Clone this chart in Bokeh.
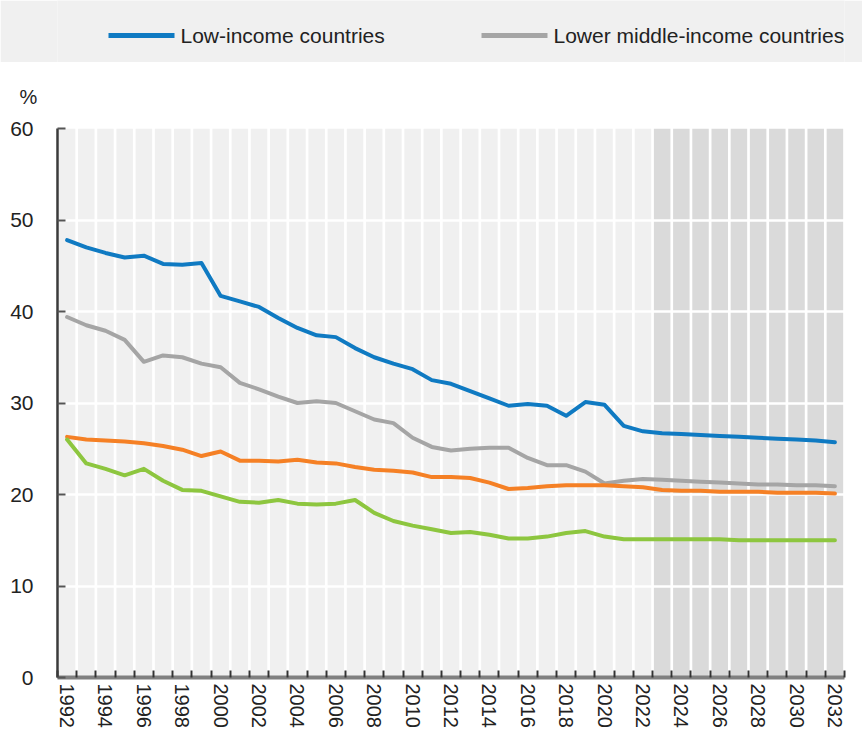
from bokeh.plotting import figure
from bokeh.layouts import column
from bokeh.models import FixedTicker, Range1d, ColumnDataSource, Title
from bokeh.core.properties import value
from bokeh.embed import file_html
from bokeh.resources import INLINE

# ---------------- data ----------------
years = [1992, 1993, 1994, 1995, 1996, 1997, 1998, 1999, 2000, 2001,
         2002, 2003, 2004, 2005, 2006, 2007, 2008, 2009, 2010, 2011,
         2012, 2013, 2014, 2015, 2016, 2017, 2018, 2019, 2020, 2021,
         2022, 2023, 2024, 2025, 2026, 2027, 2028, 2029, 2030, 2031, 2032]
projection_start = 2023

low_income = [47.8, 47.0, 46.4, 45.9, 46.1, 45.2, 45.1, 45.3, 41.7, 41.1,
              40.5, 39.3, 38.2, 37.4, 37.2, 36.0, 35.0, 34.3, 33.7, 32.5,
              32.1, 31.3, 30.5, 29.7, 29.9, 29.7, 28.6, 30.1, 29.8, 27.5,
              26.9, 26.7, 26.6, 26.5, 26.4, 26.3, 26.2, 26.1, 26.0, 25.9, 25.7]
lower_middle = [39.4, 38.5, 37.9, 36.9, 34.5, 35.2, 35.0, 34.3, 33.9, 32.2,
                31.5, 30.7, 30.0, 30.2, 30.0, 29.1, 28.2, 27.8, 26.2, 25.2,
                24.8, 25.0, 25.1, 25.1, 24.0, 23.2, 23.2, 22.5, 21.2, 21.5,
                21.7, 21.6, 21.5, 21.4, 21.3, 21.2, 21.1, 21.1, 21.0, 21.0, 20.9]
upper_middle = [26.3, 26.0, 25.9, 25.8, 25.6, 25.3, 24.9, 24.2, 24.7, 23.7,
                23.7, 23.6, 23.8, 23.5, 23.4, 23.0, 22.7, 22.6, 22.4, 21.9,
                21.9, 21.8, 21.3, 20.6, 20.7, 20.9, 21.0, 21.0, 21.0, 20.9,
                20.8, 20.5, 20.4, 20.4, 20.3, 20.3, 20.3, 20.2, 20.2, 20.2, 20.1]
high_income = [26.0, 23.4, 22.8, 22.1, 22.8, 21.5, 20.5, 20.4, 19.8, 19.2,
               19.1, 19.4, 19.0, 18.9, 19.0, 19.4, 18.0, 17.1, 16.6, 16.2,
               15.8, 15.9, 15.6, 15.2, 15.2, 15.4, 15.8, 16.0, 15.4, 15.1,
               15.1, 15.1, 15.1, 15.1, 15.1, 15.0, 15.0, 15.0, 15.0, 15.0, 15.0]

series_names = ["Low-income countries", "Lower middle-income countries",
                "Upper middle-income countries", "High-income countries"]
series_colors = ["#0F7AC2", "#A5A5A5", "#F58025", "#8DC63F"]
legend_shown = [0, 1]

y_ticks = [0, 10, 20, 30, 40, 50, 60]
x_label_years = [1992, 1994, 1996, 1998, 2000, 2002, 2004, 2006, 2008, 2010,
                 2012, 2014, 2016, 2018, 2020, 2022, 2024, 2026, 2028, 2030, 2032]
y_unit = "%"

FONT = "Liberation Sans"
TEXT_COLOR = "#222222"

# ---------------- layout (pixels) ----------------
W = 862
LEG_H = 62
H = 737 - LEG_H
BL, BR, BT, BB = 57, 18, 128 - LEG_H, 60

# ---------------- legend strip ----------------
lg = figure(width=W, height=LEG_H, output_backend="svg", toolbar_location=None,
            x_range=Range1d(BL, W - BR), y_range=Range1d(0, LEG_H),
            x_axis_location=None, y_axis_location=None,
            min_border_left=BL, min_border_right=BR, min_border_top=0, min_border_bottom=0)
lg.outline_line_color = None
lg.xgrid.visible = False
lg.ygrid.visible = False
lg.background_fill_color = "#F0F0F0"
lg.border_fill_color = "#F0F0F0"

legend_line_x = [108, 481]
legend_row = LEG_H - 35
for k, idx in enumerate(legend_shown):
    sx = legend_line_x[k]
    lg.segment(x0=[sx], y0=[legend_row], x1=[sx + 66], y1=[legend_row],
               line_color=series_colors[idx], line_width=5)
    lg.text(x=[sx + 72], y=[legend_row], text=[series_names[idx]],
            text_font=value(FONT), text_font_size="21px", text_color=TEXT_COLOR,
            text_baseline="middle", text_align="left")

# ---------------- main chart ----------------
p = figure(width=W, height=H, output_backend="svg", toolbar_location=None,
           x_range=Range1d(years[0] - 0.5, years[-1] + 0.5),
           y_range=Range1d(y_ticks[0], y_ticks[-1]),
           min_border_left=BL, min_border_right=BR,
           min_border_top=BT, min_border_bottom=BB)
p.outline_line_color = None
p.xgrid.visible = False
p.ygrid.visible = False
p.background_fill_color = "white"
p.border_fill_color = "white"

unit_title = Title(text=y_unit, align="left", offset=-38, standoff=42,
                   text_font=FONT, text_font_size="20px", text_font_style="normal",
                   text_color=TEXT_COLOR)
p.add_layout(unit_title, "above")

bg_colors = ["#F0F0F0" if y < projection_start else "#DADADA" for y in years]
bg = ColumnDataSource(dict(x=years, c=bg_colors))
p.vbar(x="x", width=0.86, bottom=y_ticks[0], top=y_ticks[-1],
       fill_color="c", line_color=None, source=bg)
p.hspan(y=y_ticks[1:-1], line_color="white", line_width=2.5)

for idx, vals in enumerate([low_income, lower_middle, upper_middle, high_income]):
    p.line(years, vals, line_color=series_colors[idx], line_width=4,
           line_join="round", line_cap="round")

# y axis
p.yaxis.ticker = FixedTicker(ticks=y_ticks)
p.yaxis.axis_line_color = "#3a3a3a"
p.yaxis.axis_line_width = 2.5
p.yaxis.major_tick_in = 8
p.yaxis.major_tick_out = 0
p.yaxis.major_tick_line_color = "#555555"
p.yaxis.major_tick_line_width = 2
p.yaxis.minor_tick_line_color = None
p.yaxis.major_label_standoff = 24
p.yaxis.major_label_text_font = FONT
p.yaxis.major_label_text_font_size = "21px"
p.yaxis.major_label_text_color = TEXT_COLOR

# x axis
boundaries = [y - 0.5 for y in years] + [years[-1] + 0.5]
p.xaxis.ticker = FixedTicker(ticks=x_label_years, minor_ticks=boundaries)
p.xaxis.axis_line_color = "#808080"
p.xaxis.axis_line_width = 4
p.xaxis.major_tick_in = 0
p.xaxis.major_tick_out = 0
p.xaxis.minor_tick_in = 7
p.xaxis.minor_tick_out = 0
p.xaxis.minor_tick_line_color = "#333333"
p.xaxis.minor_tick_line_width = 2
p.xaxis.major_label_orientation = "vertical"
p.xaxis.major_label_standoff = 6
p.xaxis.major_label_text_font = FONT
p.xaxis.major_label_text_font_size = "20px"
p.xaxis.major_label_text_color = TEXT_COLOR

layout = column(lg, p, spacing=0)
open("out.html", "w").write(file_html(layout, INLINE))
